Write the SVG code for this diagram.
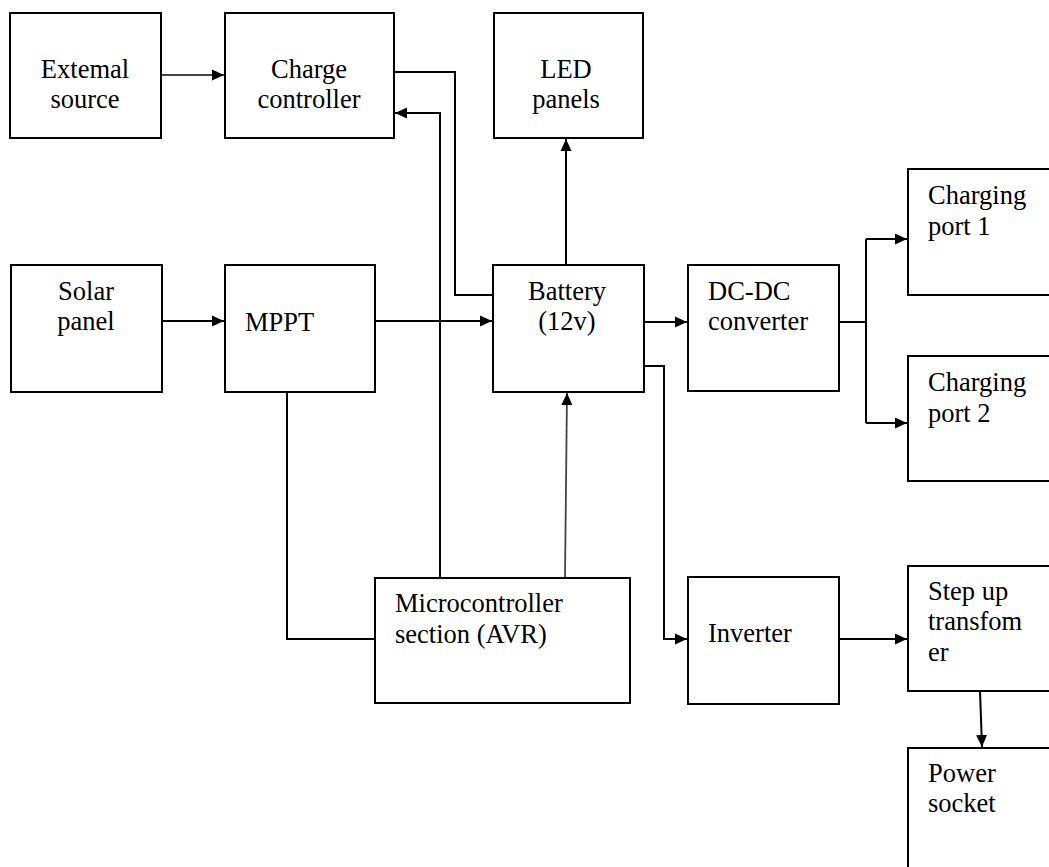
<svg xmlns="http://www.w3.org/2000/svg" width="1049" height="867" viewBox="0 0 1049 867">
<style>
.box{fill:#fff;stroke:#000;stroke-width:2}
.t{font-family:"Liberation Serif","Times New Roman",serif;font-size:26.5px;fill:#000}
.c{text-anchor:middle}
.ln{fill:none;stroke:#000;stroke-width:2}
.gr{fill:none;stroke:#444;stroke-width:1.8}
</style>
<defs>
<marker id="ah" markerWidth="14" markerHeight="14" refX="12" refY="6.5" orient="auto" markerUnits="userSpaceOnUse">
<path d="M0,1 L12,6.5 L0,12 Z" fill="#000"/>
</marker>
</defs>
<rect width="1049" height="867" fill="#fff"/>
<g id="connectors">
<path class="gr" d="M161,75 L224,75" marker-end="url(#ah)"/>
<path class="ln" d="M394,72 L455,72 L455,295 L493,295"/>
<path class="ln" d="M440,578 L440,113 L395,113" marker-end="url(#ah)"/>
<path class="ln" d="M566,265 L566,139" marker-end="url(#ah)"/>
<path class="ln" d="M162,321 L224,321" marker-end="url(#ah)"/>
<path class="ln" d="M375,321 L492,321" marker-end="url(#ah)"/>
<path class="ln" d="M644,322 L687,322" marker-end="url(#ah)"/>
<path class="ln" d="M839,322 L866,322"/>
<path class="ln" d="M866,239 L866,423"/>
<path class="ln" d="M866,239 L907,239" marker-end="url(#ah)"/>
<path class="ln" d="M866,423 L907,423" marker-end="url(#ah)"/>
<path class="ln" d="M644,366 L664,366 L664,639 L687,639" marker-end="url(#ah)"/>
<path class="gr" d="M565,578 L567,393" marker-end="url(#ah)"/>
<path class="ln" d="M287,392 L287,639 L375,639"/>
<path class="ln" d="M839,639 L907,639" marker-end="url(#ah)"/>
<path class="ln" d="M980,691 L982,747" marker-end="url(#ah)"/>
</g>
<g id="external-source">
<rect class="box" x="10" y="13" width="151" height="125"/>
<text class="t c" x="85" y="78">Extemal</text>
<text class="t c" x="85" y="108">source</text>
</g>
<g id="charge-controller">
<rect class="box" x="225" y="13" width="169" height="125"/>
<text class="t c" x="309" y="78">Charge</text>
<text class="t c" x="309" y="108">controller</text>
</g>
<g id="led-panels">
<rect class="box" x="494" y="13" width="149" height="125"/>
<text class="t c" x="566" y="78">LED</text>
<text class="t c" x="566" y="108">panels</text>
</g>
<g id="solar-panel">
<rect class="box" x="11" y="265" width="151" height="127"/>
<text class="t c" x="86" y="300">Solar</text>
<text class="t c" x="86" y="330">panel</text>
</g>
<g id="mppt">
<rect class="box" x="225" y="265" width="150" height="127"/>
<text class="t" x="245" y="331">MPPT</text>
</g>
<g id="battery">
<rect class="box" x="493" y="265" width="151" height="127"/>
<text class="t c" x="567" y="300">Battery</text>
<text class="t c" x="567" y="330">(12v)</text>
</g>
<g id="dc-dc-converter">
<rect class="box" x="688" y="265" width="151" height="126"/>
<text class="t" x="708" y="300">DC-DC</text>
<text class="t" x="708" y="330">converter</text>
</g>
<g id="charging-port-1">
<rect class="box" x="908" y="169" width="150" height="126"/>
<text class="t" x="928" y="204">Charging</text>
<text class="t" x="928" y="235">port 1</text>
</g>
<g id="charging-port-2">
<rect class="box" x="908" y="356" width="150" height="125"/>
<text class="t" x="928" y="391">Charging</text>
<text class="t" x="928" y="422">port 2</text>
</g>
<g id="microcontroller">
<rect class="box" x="375" y="578" width="255" height="125"/>
<text class="t" x="395" y="612">Microcontroller</text>
<text class="t" x="395" y="643">section (AVR)</text>
</g>
<g id="inverter">
<rect class="box" x="688" y="577" width="151" height="127"/>
<text class="t" x="708" y="642">Inverter</text>
</g>
<g id="step-up-transformer">
<rect class="box" x="908" y="566" width="150" height="125"/>
<text class="t" x="928" y="600">Step up</text>
<text class="t" x="928" y="630">transfom</text>
<text class="t" x="928" y="661">er</text>
</g>
<g id="power-socket">
<rect class="box" x="908" y="748" width="150" height="130"/>
<text class="t" x="928" y="782">Power</text>
<text class="t" x="928" y="812">socket</text>
</g>
</svg>
